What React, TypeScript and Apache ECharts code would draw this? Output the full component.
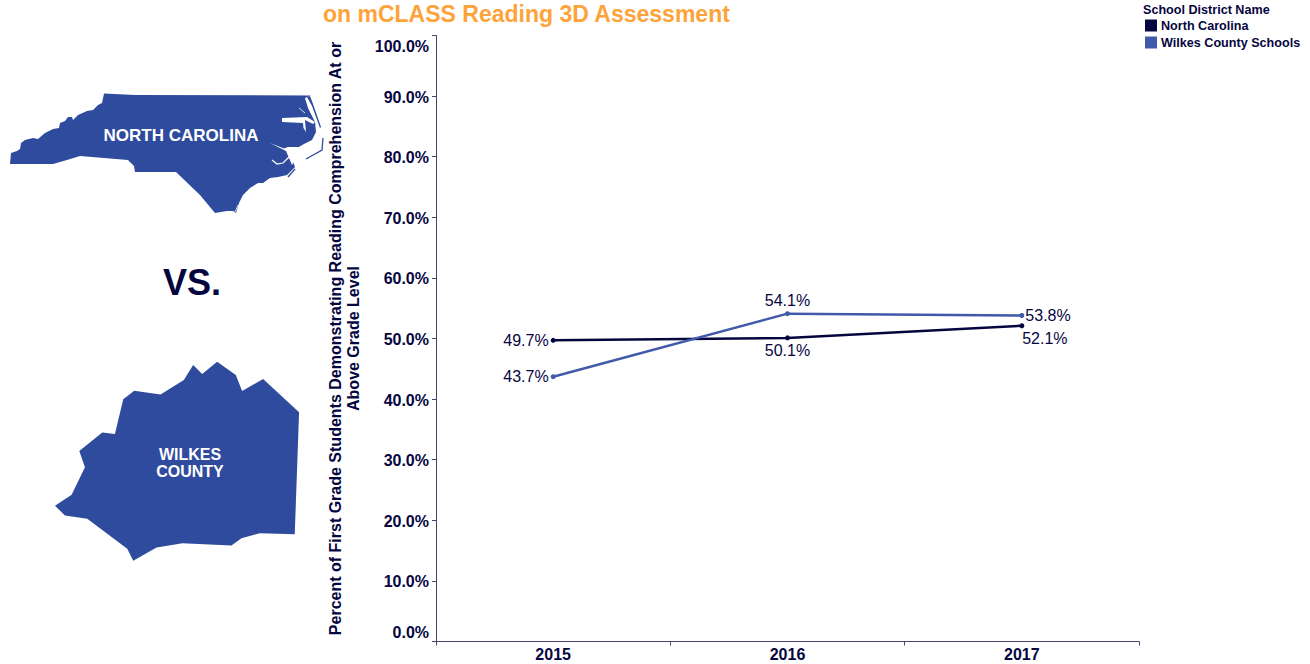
import React, { useEffect, useRef } from "react";
import * as echarts from "echarts";

const years = ["2015", "2016", "2017"];
const northCarolina = [49.7, 50.1, 52.1];
const wilkes = [43.7, 54.1, 53.8];

const DARK = "#06063f";
const LINE_BLUE = "#4059a9";
const MAP_BLUE = "#2e4b9e";
const ORANGE = "#fda33a";
const AXIS = "#45456f";

const ncBody = [
  [10, 164], [11, 153], [17, 151], [20, 149], [21, 143], [25, 140], [33, 138], [38, 139], [45, 133], [53, 129],
  [59, 128], [60, 123], [65, 121], [68, 117], [72, 117], [73, 120], [78, 115], [87, 111], [93, 110], [98, 105],
  [102, 103], [104, 93.5], [135, 95], [311, 95.5], [305, 98], [308, 108], [315, 122], [316, 132], [312, 140],
  [304, 144], [297, 148], [290, 155], [293, 162], [295, 167], [292, 170], [287, 175], [278, 177], [270, 178],
  [263, 183], [258, 183], [250, 188], [243, 195], [239, 203], [236, 213], [233, 211], [227, 211], [215, 213],
  [200, 195], [176, 172], [135, 172], [134, 166], [128, 160], [80, 156], [67, 160], [53, 164],
];
const ncIsland = [[310, 96], [313, 104], [321, 127], [320, 128], [312, 106], [307, 97]];
const albemarle = [[282, 118], [307, 117], [315, 122], [313, 124], [305, 120], [306, 132], [303.5, 128], [303, 123], [282, 122]];
const pamlico = [[270, 143], [284, 148.5], [288, 147], [298, 147], [297, 155], [292, 165], [289, 158], [286, 151]];
const pamlicoArm = [[272, 160], [277, 164], [283, 163], [289, 157]];
const albemarleArm = [[299, 108], [305, 113]];
const outerBanks = [[323, 138], [322, 150], [306, 159]];
const capeIsland = [[295, 169], [288, 177]];
const capeGap = [[238, 205], [235, 212]];

const wilkesShape = [
  [45, 468], [95, 435], [135, 352], [118, 303], [187, 248], [225, 252], [250, 148], [283, 122], [362, 134], [432, 90],
  [460, 45], [487, 72], [532, 35], [588, 75], [607, 123], [670, 87], [778, 187], [765, 553], [660, 550], [605, 565],
  [575, 587], [428, 580], [350, 593], [280, 633], [262, 597], [142, 507], [75, 497],
];

const ncLabelSpec = [
  { position: "left", distance: 2 },
  { position: "bottom", distance: 2 },
  { position: "bottom", distance: 2, offset: [23, 0] },
];
const wilkesLabelSpec = [
  { position: "left", distance: 2 },
  { position: "top", distance: 3 },
  { position: "right", distance: 1 },
];

const fontFamily = "'Liberation Sans', Arial, sans-serif";
const pct = (v: number) => v.toFixed(1) + "%";

function seriesOf(name: string, values: number[], color: string, specs: any[]) {
  return {
    name,
    type: "line",
    data: values.map((value, i) => ({ value, label: specs[i] })),
    symbol: "circle",
    symbolSize: 5,
    lineStyle: { color, width: 2.5 },
    itemStyle: { color },
    label: {
      show: true,
      color: DARK,
      fontFamily,
      fontSize: 16,
      formatter: (p: any) => pct(p.value),
    },
  };
}

const tickFont = { color: DARK, fontSize: 16, fontWeight: "bold", fontFamily };

export default function App() {
  const ref = useRef<HTMLDivElement>(null);
  useEffect(() => {
    const chart = echarts.init(ref.current!, undefined, { renderer: "svg" });
    const mapText = (text: string, x: number, y: number, fontSize: number) => ({
      type: "text",
      x,
      y,
      style: { text, fill: "#fff", font: `bold ${fontSize}px ${fontFamily}`, textAlign: "center", textVerticalAlign: "middle" },
    });
    chart.setOption({
      animation: false,
      title: {
        text: "on mCLASS Reading 3D Assessment",
        left: 318,
        top: -3,
        textStyle: { color: ORANGE, fontSize: 23, fontWeight: "bold", fontFamily },
      },
      legend: {
        left: 1145,
        top: 19,
        orient: "vertical",
        icon: "rect",
        itemWidth: 12,
        itemHeight: 12,
        itemGap: 4,
        padding: 0,
        textStyle: { color: DARK, fontSize: 12.6, fontWeight: "bold", fontFamily, padding: [0, 0, 0, -1] },
        data: ["North Carolina", "Wilkes County Schools"],
      },
      grid: { left: 436, right: 171, top: 35.5, bottom: 22.5, containLabel: false },
      xAxis: {
        type: "category",
        data: years,
        boundaryGap: true,
        axisLine: { lineStyle: { color: AXIS, width: 1 } },
        axisTick: { show: true, length: 4, lineStyle: { color: AXIS } },
        axisLabel: { ...tickFont, margin: 5 },
      },
      yAxis: {
        type: "value",
        min: 0,
        max: 100,
        interval: 10,
        name: "Percent of First Grade Students Demonstrating Reading Comprehension At or\nAbove Grade Level",
        nameLocation: "middle",
        nameGap: 74,
        nameTextStyle: { ...tickFont, lineHeight: 18 },
        splitLine: { show: false },
        axisLine: { show: true, lineStyle: { color: AXIS, width: 1 } },
        axisTick: { show: true, length: 4, lineStyle: { color: AXIS } },
        axisLabel: {
          ...tickFont,
          margin: 7,
          verticalAlignMinLabel: "bottom",
          verticalAlignMaxLabel: "top",
          formatter: (v: number) => `{${v === 100 ? "max" : v === 0 ? "min" : "mid"}|${pct(v)}}`,
          rich: {
            max: { ...tickFont, padding: [3, 0, 0, 0] },
            min: { ...tickFont, padding: [0, 0, 1, 0] },
            mid: { ...tickFont, padding: [2, 0, 0, 0] },
          },
        },
      },
      series: [
        seriesOf("North Carolina", northCarolina, DARK, ncLabelSpec),
        seriesOf("Wilkes County Schools", wilkes, LINE_BLUE, wilkesLabelSpec),
      ],
      graphic: [
        { type: "polygon", shape: { points: ncBody }, style: { fill: MAP_BLUE } },
        { type: "polygon", shape: { points: ncIsland }, style: { fill: MAP_BLUE } },
        { type: "polygon", shape: { points: albemarle }, style: { fill: "#fff" } },
        { type: "polygon", shape: { points: pamlico }, style: { fill: "#fff" } },
        { type: "polyline", shape: { points: pamlicoArm }, style: { stroke: "#fff", lineWidth: 1.2, fill: "none" } },
        { type: "polyline", shape: { points: albemarleArm }, style: { stroke: "#fff", lineWidth: 0.8, fill: "none" } },
        { type: "polyline", shape: { points: capeGap }, style: { stroke: "#fff", lineWidth: 0.8, fill: "none" } },
        { type: "polyline", shape: { points: outerBanks }, style: { stroke: MAP_BLUE, lineWidth: 1.3, fill: "none" } },
        { type: "polyline", shape: { points: capeIsland }, style: { stroke: MAP_BLUE, lineWidth: 1.3, fill: "none" } },
        mapText("NORTH CAROLINA", 181, 135, 17),
        {
          type: "group",
          x: 40,
          y: 350,
          scaleX: 1 / 3,
          scaleY: 1 / 3,
          children: [{ type: "polygon", shape: { points: wilkesShape }, style: { fill: MAP_BLUE } }],
        },
        mapText("WILKES", 190, 454, 16),
        mapText("COUNTY", 190, 471, 16),
        {
          type: "text",
          x: 192,
          y: 282,
          style: { text: "VS.", fill: DARK, font: `bold 36px ${fontFamily}`, textAlign: "center", textVerticalAlign: "middle" },
        },
        {
          type: "text",
          x: 1143,
          y: 10,
          style: { text: "School District Name", fill: DARK, font: `bold 12.6px ${fontFamily}`, textVerticalAlign: "middle" },
        },
      ],
    });
    return () => chart.dispose();
  }, []);
  return <div ref={ref} style={{ position: "absolute", left: 0, top: 0, width: 1310, height: 664 }} />;
}
